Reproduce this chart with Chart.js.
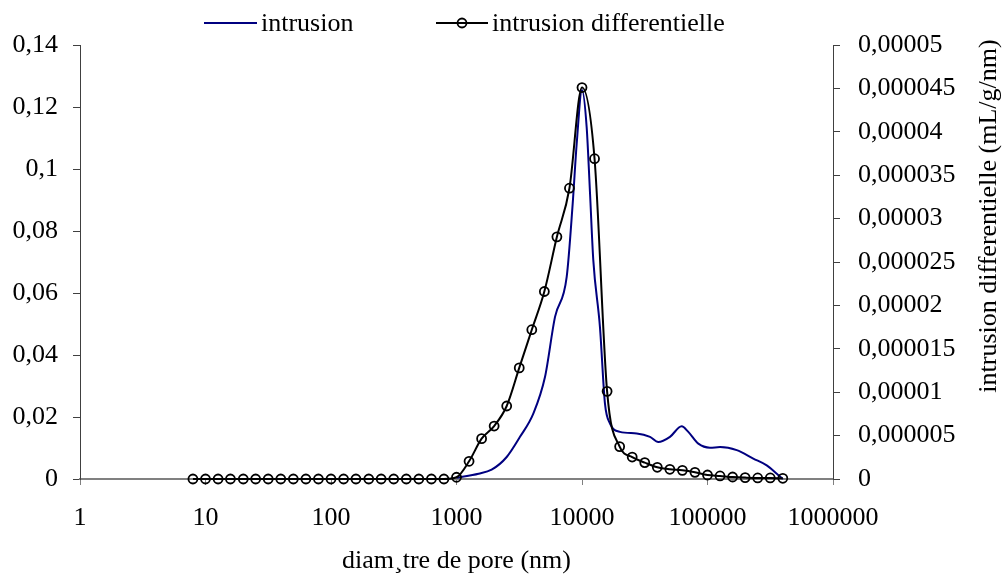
<!DOCTYPE html>
<html>
<head>
<meta charset="utf-8">
<script src="https://cdn.jsdelivr.net/npm/chart.js@4.4.0/dist/chart.umd.min.js"></script>
<style>
html,body{margin:0;padding:0;background:#ffffff;}
#wrap{width:1007px;height:580px;}
</style>
</head>
<body>
<div id="wrap"><canvas id="c" width="1007" height="580"></canvas></div>
<script>
// ---- data ----
const seriesNames = ['intrusion', 'intrusion differentielle'];
const xTitle = 'diam\u00b8tre de pore (nm)';
const rightTitle = 'intrusion differentielle (mL/g/nm)';

const xTicks = [1, 10, 100, 1000, 10000, 100000, 1000000];
const leftTicks = [0, 0.02, 0.04, 0.06, 0.08, 0.1, 0.12, 0.14];
const rightTicks = [0, 0.000005, 0.00001, 0.000015, 0.00002, 0.000025, 0.00003, 0.000035, 0.00004, 0.000045, 0.00005];

// intrusion differentielle (black, circles) - pore diameter (nm)
const diamDiff = [7.94, 10, 12.6, 15.8, 20, 25.1, 31.6, 39.8, 50.1, 63.1, 79.4,
  100, 126, 158, 200, 251, 316, 398, 501, 631, 794,
  1000, 1259, 1585, 1995, 2512, 3162, 3981, 5012, 6310, 7943,
  10000, 12589, 15849, 19953, 25119, 31623, 39811, 50119, 63096, 79433,
  100000, 125893, 158489, 199526, 251189, 316228, 398107];
const intrusionDiff = [0, 0, 0, 0, 0, 0, 0, 0, 0, 0, 0,
  0, 0, 0, 0, 0, 0, 0, 0, 0, 0,
  0.0000002, 0.00000204, 0.00000465, 0.0000061, 0.00000841, 0.0000128, 0.0000172, 0.0000216, 0.0000279, 0.0000335,
  0.0000451, 0.0000369, 0.0000101, 0.00000373, 0.00000253, 0.00000189, 0.00000135, 0.00000112, 0.000001, 0.00000077,
  0.00000046, 0.00000035, 0.00000023, 0.00000016, 0.00000012, 0.00000012, 0.00000008];

// intrusion (blue line) - pore diameter (nm)
const diamIntr = [1000, 1500, 1905, 2512, 3206, 4093, 5070, 6095, 7551, 8433, 9078,
  10000, 10889, 11588, 12303, 13900, 15240, 16710, 20090, 27290, 34830,
  40550, 50230, 62230, 70310, 84530, 104700, 125900, 171000, 231700, 296500,
  356500, 398100];
const intrusion = [0.0004, 0.0017, 0.0030, 0.0071, 0.0136, 0.0211, 0.0329, 0.0523, 0.0652, 0.0889, 0.1083,
  0.1255, 0.1136, 0.0921, 0.0706, 0.049, 0.0243, 0.0179, 0.0152, 0.0147, 0.0136,
  0.0119, 0.0136, 0.0170, 0.0152, 0.0114, 0.0101, 0.0103, 0.0093, 0.0066, 0.0044,
  0.0017, 0];

// ---- styles ----
const FONT = {family: "'Liberation Serif', 'Times New Roman', serif", size: 26};
const BLUE = '#000080';
const BLACK = '#000000';

function fmt(v) {
  if (v === 0) return '0';
  return String(+Number(v).toPrecision(6)).replace('.', ',');
}

const legendPlugin = {
  id: 'excelLegend',
  afterDraw(chart) {
    const ctx = chart.ctx;
    ctx.save();
    const y = 23;
    // item 1 (intrusion)
    ctx.strokeStyle = chart.data.datasets[1].borderColor;
    ctx.lineWidth = 2;
    ctx.beginPath(); ctx.moveTo(204, y); ctx.lineTo(257, y); ctx.stroke();
    // item 2 (intrusion differentielle)
    ctx.strokeStyle = chart.data.datasets[0].borderColor;
    ctx.beginPath(); ctx.moveTo(436, y); ctx.lineTo(488, y); ctx.stroke();
    ctx.lineWidth = 1.8;
    ctx.beginPath(); ctx.arc(462, y, 4.5, 0, Math.PI * 2); ctx.stroke();
    ctx.fillStyle = '#000';
    ctx.font = FONT.size + 'px ' + FONT.family;
    ctx.textAlign = 'left';
    ctx.textBaseline = 'middle';
    ctx.fillText(chart.data.datasets[1].label, 261, y + 1);
    ctx.fillText(chart.data.datasets[0].label, 492, y + 1);
    ctx.restore();
  }
};

const rightTitlePlugin = {
  id: 'rightTitle',
  afterDraw(chart) {
    const ctx = chart.ctx;
    ctx.save();
    ctx.translate(989, 216);
    ctx.rotate(-Math.PI / 2);
    ctx.fillStyle = '#000';
    ctx.font = FONT.size + 'px ' + FONT.family;
    ctx.textAlign = 'center';
    ctx.textBaseline = 'middle';
    ctx.fillText(rightTitle, 0, 0);
    ctx.restore();
  }
};

new Chart(document.getElementById('c'), {
  type: 'line',
  data: {
    datasets: [
      {
        label: seriesNames[1],
        data: diamDiff.map((x, i) => ({x: x, y: intrusionDiff[i]})),
        yAxisID: 'y1',
        borderColor: BLACK,
        borderWidth: 2,
        pointStyle: 'circle',
        pointRadius: 4.5,
        pointBorderWidth: 1.8,
        pointBorderColor: BLACK,
        pointBackgroundColor: 'rgba(0,0,0,0)',
        cubicInterpolationMode: 'monotone',
        fill: false,
        clip: false,
        order: 0
      },
      {
        label: seriesNames[0],
        data: diamIntr.map((x, i) => ({x: x, y: intrusion[i]})),
        yAxisID: 'y',
        borderColor: BLUE,
        borderWidth: 2,
        pointRadius: 0,
        cubicInterpolationMode: 'monotone',
        fill: false,
        clip: false,
        order: 1
      }
    ]
  },
  options: {
    responsive: false,
    animation: false,
    devicePixelRatio: 1,
    layout: {padding: {top: 45, left: 0, right: 0, bottom: 0}},
    plugins: {
      legend: {display: false},
      tooltip: {enabled: false}
    },
    scales: {
      x: {
        type: 'logarithmic',
        position: 'bottom',
        min: 1,
        max: 1000000,
        afterBuildTicks: (s) => { s.ticks = xTicks.map(v => ({value: v})); },
        afterFit: (s) => { s.height = 101; },
        ticks: {
          callback: (v) => String(v),
          font: FONT, color: '#000', padding: 18, autoSkip: false, maxRotation: 0
        },
        grid: {drawOnChartArea: false, drawTicks: true, tickLength: 6, color: '#808080', lineWidth: 1},
        border: {color: '#808080', width: 2},
        title: {display: true, text: xTitle, font: FONT, color: '#000', padding: {top: 0, bottom: 3}}
      },
      y: {
        type: 'linear',
        position: 'left',
        min: 0,
        max: 0.14,
        afterBuildTicks: (s) => { s.ticks = leftTicks.map(v => ({value: v})); },
        afterFit: (s) => { s.width = 80; },
        ticks: {callback: (v) => fmt(v), font: FONT, color: '#000', padding: 15},
        grid: {drawOnChartArea: false, drawTicks: true, tickLength: 7, color: '#404040', lineWidth: 1},
        border: {color: '#404040', width: 1}
      },
      y1: {
        type: 'linear',
        position: 'right',
        min: 0,
        max: 0.00005,
        afterBuildTicks: (s) => { s.ticks = rightTicks.map(v => ({value: v})); },
        afterFit: (s) => { s.width = 174; },
        ticks: {callback: (v) => fmt(v), font: FONT, color: '#000', padding: 18},
        grid: {drawOnChartArea: false, drawTicks: true, tickLength: 7, color: '#404040', lineWidth: 1},
        border: {color: '#404040', width: 1}
      }
    }
  },
  plugins: [legendPlugin, rightTitlePlugin]
});
</script>
</body>
</html>
